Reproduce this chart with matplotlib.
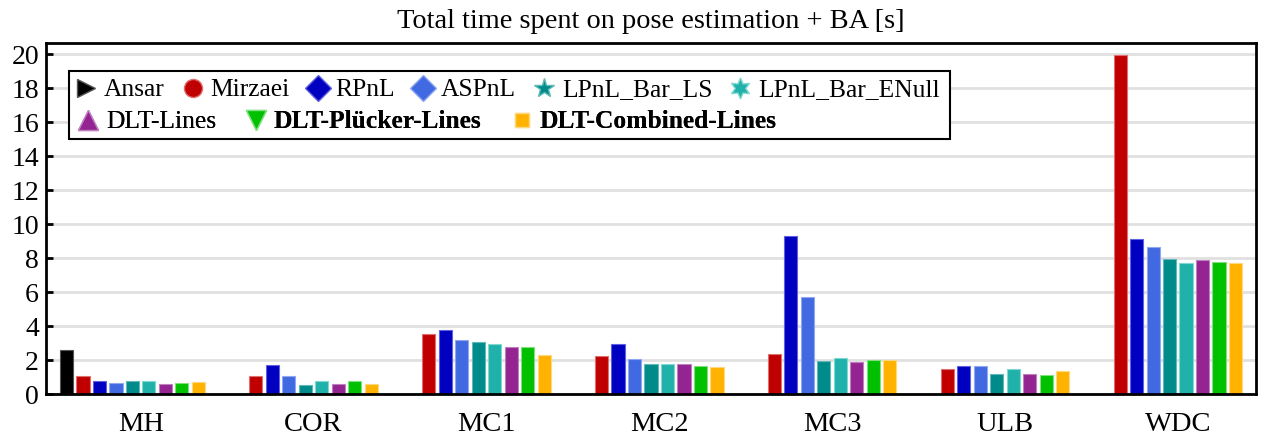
import numpy as np
import matplotlib
matplotlib.use("Agg")
import matplotlib.pyplot as plt
from matplotlib.lines import Line2D
from matplotlib.patches import Rectangle

plt.rcParams['font.family'] = ['Liberation Serif', 'DejaVu Serif']

datasets = ['MH', 'COR', 'MC1', 'MC2', 'MC3', 'ULB', 'WDC']
methods = ['Ansar', 'Mirzaei', 'RPnL', 'ASPnL', 'LPnL_Bar_LS', 'LPnL_Bar_ENull',
           'DLT-Lines', 'DLT-Plücker-Lines', 'DLT-Combined-Lines']

ansar = [2.56, np.nan, np.nan, np.nan, np.nan, np.nan, np.nan]
mirzaei = [1.03, 1.03, 3.54, 2.25, 2.36, 1.46, 19.95]
rpnl = [0.79, 1.70, 3.78, 2.93, 9.28, 1.66, 9.10]
aspnl = [0.66, 1.03, 3.19, 2.07, 5.69, 1.66, 8.66]
lpnl_bar_ls = [0.79, 0.54, 3.05, 1.79, 1.95, 1.15, 7.97]
lpnl_bar_enull = [0.79, 0.74, 2.95, 1.75, 2.13, 1.50, 7.68]
dlt_lines = [0.58, 0.56, 2.74, 1.74, 1.91, 1.15, 7.89]
dlt_plucker_lines = [0.66, 0.74, 2.79, 1.64, 1.99, 1.14, 7.78]
dlt_combined_lines = [0.68, 0.60, 2.32, 1.58, 2.01, 1.38, 7.72]

series = [ansar, mirzaei, rpnl, aspnl, lpnl_bar_ls, lpnl_bar_enull,
          dlt_lines, dlt_plucker_lines, dlt_combined_lines]
colors = ['#000000', '#C00000', '#0000C0', '#4169E1', '#008B8B', '#20B2AA',
          '#932492', '#00C000', '#FFB300']
edge_colors = ['#555555', '#E07070', '#6060E0', '#90A8F0', '#60B8B8', '#80D8D0',
               '#C080C0', '#80E080', '#FFD880']
markers = ['>', 'o', 'D', 'D', '*', (6, 1, 0), '^', 'v', 's']
msizes = [13, 13, 13, 13, 15, 15, 14, 14, 10]
bold = [False] * 7 + [True, True]

fig = plt.figure(figsize=(12.63, 4.41), dpi=100)
ax = fig.add_axes([46 / 1263, (441 - 394) / 441, 1210 / 1263, 351 / 441])

x = np.arange(len(datasets))
pitch = 0.0954
width = 0.076
for k, vals in enumerate(series):
    ax.bar(x + (k - 4) * pitch, vals, width=width, color=colors[k],
           edgecolor=edge_colors[k], linewidth=0.8, zorder=3)

ax.set_xlim(-0.5, 6.5)
ax.set_ylim(0, 20.65)
ax.set_yticks(np.arange(0, 21, 2))
ax.set_xticks(x + 0.5 * pitch)
ax.set_xticklabels(datasets, fontsize=20.5)
ax.tick_params(axis='x', length=0, pad=13)
ax.tick_params(axis='y', direction='in', length=5, width=2, labelsize=20, pad=5)
ax.yaxis.grid(True, color='#E0E0E0', linewidth=2, zorder=0)
ax.set_axisbelow(True)
for s in ax.spines.values():
    s.set_linewidth(2)
    s.set_color('black')
    s.set_zorder(5)

ax.set_title('Total time spent on pose estimation + BA [s]', fontsize=20.4, pad=11)

handles = [Line2D([], [], linestyle='none', marker=markers[k], markersize=msizes[k],
                  markerfacecolor=colors[k], markeredgecolor=edge_colors[k],
                  markeredgewidth=1.0) for k in range(len(methods))]


def make_legend(idx, anchor, colsp):
    leg = ax.legend([handles[i] for i in idx], [methods[i] for i in idx],
                    ncol=len(idx), loc='center left', bbox_to_anchor=anchor,
                    bbox_transform=fig.transFigure, frameon=False, fontsize=18.4,
                    handlelength=0.8, handletextpad=0.3, columnspacing=colsp,
                    borderpad=0, borderaxespad=0)
    for t, i in zip(leg.get_texts(), idx):
        if bold[i]:
            t.set_fontweight('bold')
    leg.set_zorder(10)
    return leg

leg1 = make_legend([0, 1, 2, 3, 4, 5], (76 / 1263, 1 - 90 / 441), 0.69)
ax.add_artist(leg1)
leg2 = make_legend([6, 7, 8], (78 / 1263, 1 - 122 / 441), 1.16)
ax.add_artist(leg2)

frame = Rectangle((69 / 1263, 1 - 139 / 441), (950 - 69) / 1263, (139 - 71) / 441,
                  transform=fig.transFigure, facecolor='white', edgecolor='black',
                  linewidth=1.5, zorder=8, clip_on=False)
ax.add_artist(frame)

fig.savefig('out.png', dpi=100)
